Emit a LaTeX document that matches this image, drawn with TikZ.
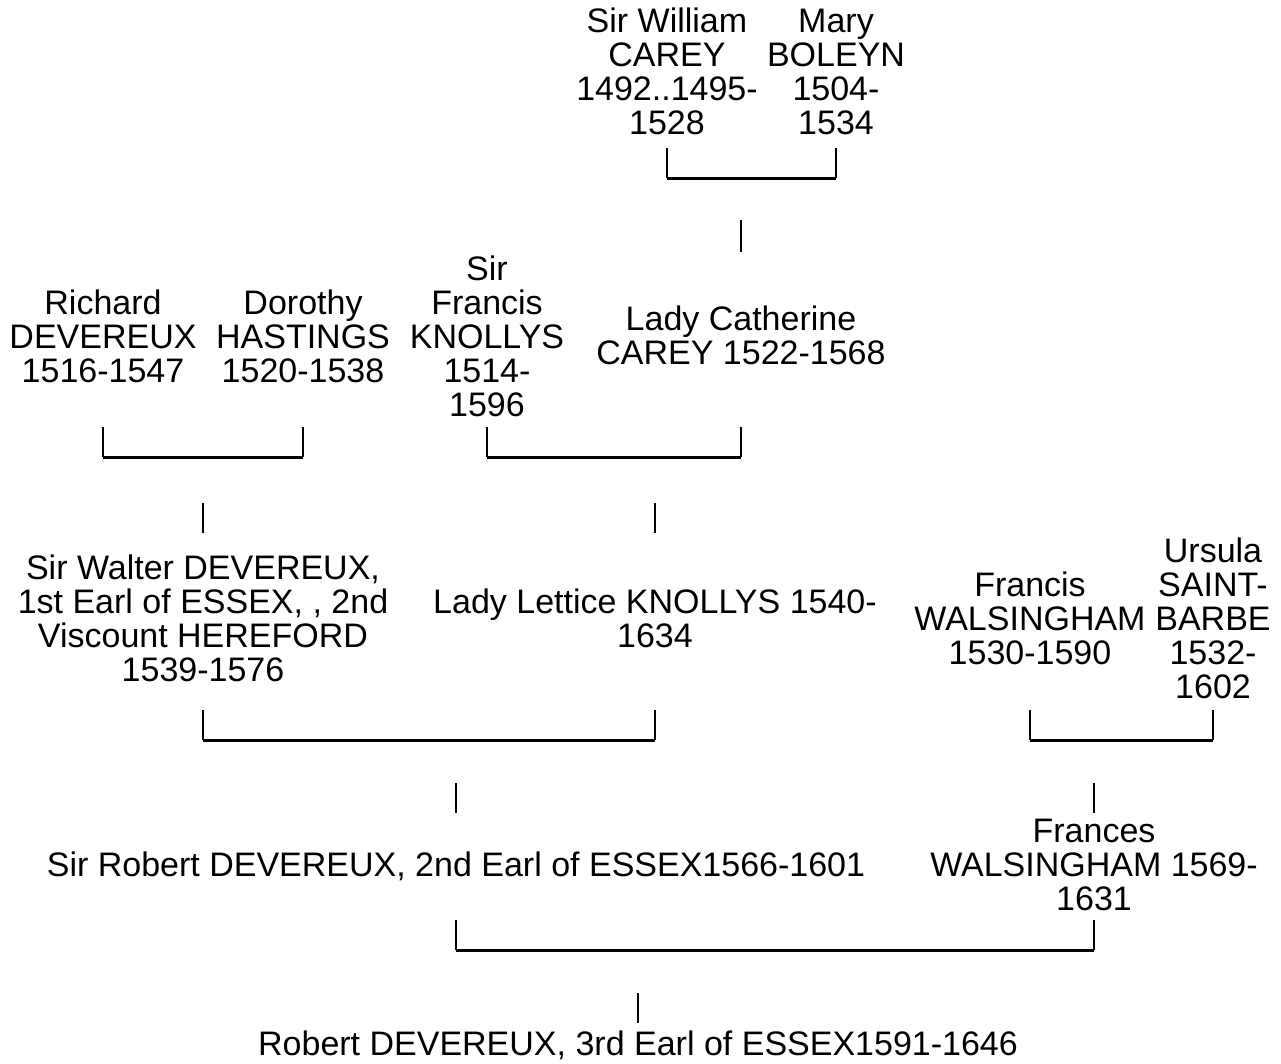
\documentclass[tikz,border=0pt]{standalone}
\usepackage{fontspec}
\setmainfont{Liberation Sans}
\usepackage{tikz}

\begin{document}
\begin{tikzpicture}[x=1pt,y=-1pt,
    person/.style={align=center,inner sep=0pt,text height=24pt,text depth=0pt,
      font=\fontsize{34}{34}\selectfont},
    stem/.style={line width=1.2pt},
    bar/.style={line width=3pt}]
  % Bounding box in pixel units; nodes sit on the middle of their last line
  \path[use as bounding box] (0,0) rectangle (1281,1063);
  % Generation 1
  \node[person] (carey) at (667,122) {Sir William\\CAREY\\1492..1495-\\1528};
  \node[person] (boleyn) at (836,122) {Mary\\BOLEYN\\1504-\\1534};
  % Generation 2
  \node[person] (richard) at (103,370) {Richard\\DEVEREUX\\1516-1547};
  \node[person] (dorothy) at (303,370) {Dorothy\\HASTINGS\\1520-1538};
  \node[person] (knollys) at (487,404) {Sir\\Francis\\KNOLLYS\\1514-\\1596};
  \node[person] (cath) at (741,352) {Lady Catherine\\CAREY 1522-1568};
  % Generation 3
  \node[person] (walter) at (203,669) {Sir Walter DEVEREUX,\\1st Earl of ESSEX, , 2nd\\Viscount HEREFORD\\1539-1576};
  \node[person] (lettice) at (655,635) {Lady Lettice KNOLLYS 1540-\\1634};
  \node[person] (walsingham) at (1030,652) {Francis\\WALSINGHAM\\1530-1590};
  \node[person] (ursula) at (1213,686) {Ursula\\SAINT-\\BARBE\\1532-\\1602};
  % Generation 4
  \node[person] (robert2) at (456,864) {Sir Robert DEVEREUX, 2nd Earl of ESSEX1566-1601};
  \node[person] (frances) at (1094,898) {Frances\\WALSINGHAM 1569-\\1631};
  % Generation 5
  \node[person] (robert3) at (638,1043) {Robert DEVEREUX, 3rd Earl of ESSEX1591-1646};

  % Levels of the marriage brackets and the child stubs
  \coordinate (u1) at (0,148);  \coordinate (b1) at (0,178);
  \coordinate (s1) at (0,220);  \coordinate (t1) at (0,252);
  \coordinate (u2) at (0,427);  \coordinate (b2) at (0,457);
  \coordinate (s2) at (0,503);  \coordinate (t2) at (0,533);
  \coordinate (u3) at (0,710);  \coordinate (b3) at (0,740);
  \coordinate (s3) at (0,783);  \coordinate (t3) at (0,813);
  \coordinate (u4) at (0,920);  \coordinate (b4) at (0,950);
  \coordinate (s4) at (0,993);  \coordinate (t4) at (0,1023);

  % Carey + Boleyn
  \draw[stem] (carey |- u1) -- (carey |- b1);
  \draw[stem] (boleyn |- u1) -- (boleyn |- b1);
  \draw[bar] (carey |- b1) -- (boleyn |- b1);
  \draw[stem] (cath |- s1) -- (cath |- t1);
  % Devereux + Hastings, Knollys + Carey
  \draw[stem] (richard |- u2) -- (richard |- b2);
  \draw[stem] (dorothy |- u2) -- (dorothy |- b2);
  \draw[bar] (richard |- b2) -- (dorothy |- b2);
  \draw[stem] (knollys |- u2) -- (knollys |- b2);
  \draw[stem] (cath |- u2) -- (cath |- b2);
  \draw[bar] (knollys |- b2) -- (cath |- b2);
  \draw[stem] (walter |- s2) -- (walter |- t2);
  \draw[stem] (lettice |- s2) -- (lettice |- t2);
  % Walter + Lettice, Walsingham + Saint-Barbe
  \draw[stem] (walter |- u3) -- (walter |- b3);
  \draw[stem] (lettice |- u3) -- (lettice |- b3);
  \draw[bar] (walter |- b3) -- (lettice |- b3);
  \draw[stem] (walsingham |- u3) -- (walsingham |- b3);
  \draw[stem] (ursula |- u3) -- (ursula |- b3);
  \draw[bar] (walsingham |- b3) -- (ursula |- b3);
  \draw[stem] (robert2 |- s3) -- (robert2 |- t3);
  \draw[stem] (frances |- s3) -- (frances |- t3);
  % Robert + Frances
  \draw[stem] (robert2 |- u4) -- (robert2 |- b4);
  \draw[stem] (frances |- u4) -- (frances |- b4);
  \draw[bar] (robert2 |- b4) -- (frances |- b4);
  \draw[stem] (robert3 |- s4) -- (robert3 |- t4);
\end{tikzpicture}
\end{document}
